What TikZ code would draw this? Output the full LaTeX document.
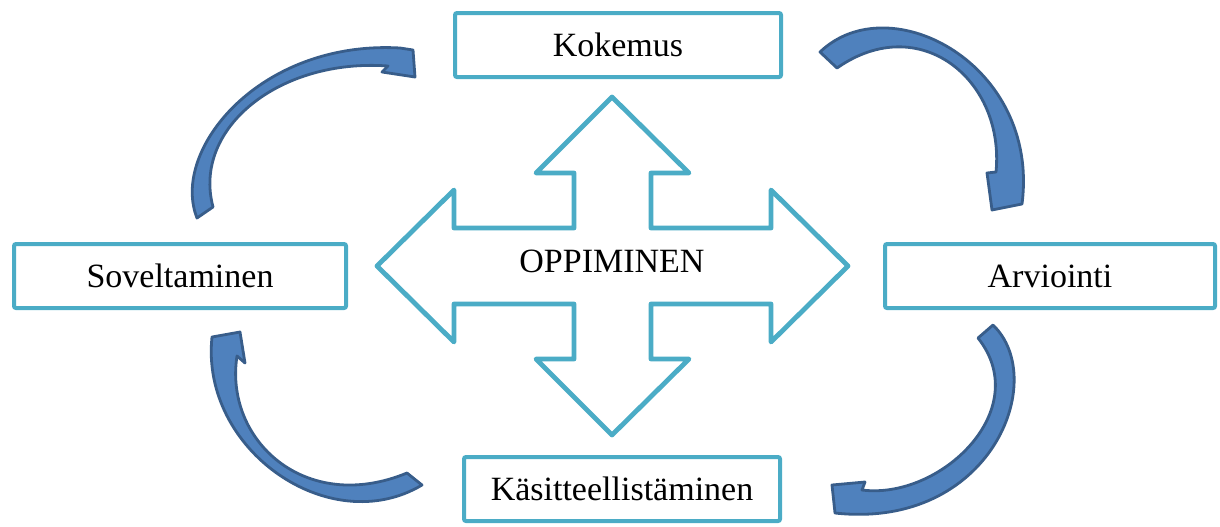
\documentclass[tikz,border=0pt]{standalone}
\usepackage{fontspec}
\setmainfont{Liberation Serif}
\usepackage{xcolor}
\usepackage{tikz}
\usetikzlibrary{positioning}

\definecolor{boxline}{HTML}{4BACC6}
\definecolor{arrowfill}{HTML}{4F81BD}
\definecolor{arrowedge}{HTML}{385D8A}

\begin{document}
\begin{tikzpicture}[
      x=0.5pt, y=-0.5pt,
      font=\fontsize{17}{20}\selectfont,
      box/.style={rectangle, draw=boxline, line width=2pt, fill=white,
            rounded corners=1pt, minimum height=32pt, inner sep=0pt, align=center},
      cross/.style={draw=boxline, line width=2.4pt, line join=round, fill=white},
      curved/.style={draw=arrowedge, fill=arrowfill, line width=1.4pt, line join=round}
]
      \useasboundingbox (0,0) rectangle (1220,526);

      \node[box, minimum width=163pt] (kokemus) at (618,45) {Kokemus};
      \node[box, minimum width=166pt] (soveltaminen) at (180,276) {Soveltaminen};
      \node[box, minimum width=165pt] (arviointi) at (1050,276) {Arviointi};
      \node[box, minimum width=158pt] (kasitteellistaminen) at (622,489) {Käsitteellistäminen};

      \draw[cross] (612,97) -- (689,173) -- (651,173) -- (651,228) -- (771,228) -- (771,190)
            -- (848,266) -- (771,342) -- (771,304) -- (651,304) -- (651,359) -- (689,359)
            -- (612,435) -- (536,359) -- (574,359) -- (574,304) -- (454,304) -- (454,342)
            -- (377,266) -- (454,190) -- (454,228) -- (574,228) -- (574,173) -- (536,173) -- cycle;
      \node (oppiminen) at (612,261) {OPPIMINEN};

      \draw[curved] (197,218) .. controls (170,150) and (260,40) .. (400,48) -- (413,50)
            -- (415,77) -- (382,72) -- (388,66)
            .. controls (280,58) and (192,128) .. (213,207) -- cycle;
      \draw[curved] (820,52) .. controls (890,-15) and (1040,65) .. (1022,204)
            -- (992,210) -- (987,173) -- (996,172)
            .. controls (1005,80) and (920,10) .. (837,68) -- cycle;
      \draw[curved] (993,325) .. controls (1050,380) and (990,530) .. (835,513)
            -- (832,485) -- (865,482) -- (862,490)
            .. controls (940,500) and (1035,410) .. (978,338) -- cycle;
      \draw[curved] (422,485) .. controls (330,540) and (200,450) .. (212,337)
            -- (240,332) -- (245,363) -- (237,356)
            .. controls (224,440) and (305,515) .. (407,473) -- cycle;
\end{tikzpicture}
\end{document}
